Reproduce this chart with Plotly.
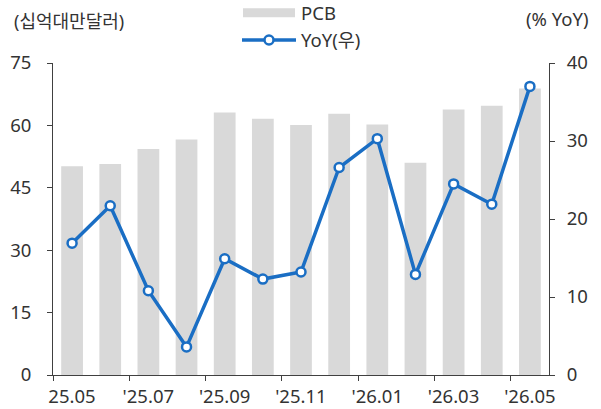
import plotly.graph_objects as go

months = ["25.05", "25.06", "25.07", "25.08", "25.09", "25.10", "25.11",
          "25.12", "26.01", "26.02", "26.03", "26.04", "26.05"]
pcb = [50.2, 50.7, 54.3, 56.6, 63.1, 61.6, 60.1, 62.8, 60.2, 51.0, 63.8, 64.7, 68.9]
yoy = [16.9, 21.7, 10.8, 3.6, 14.9, 12.3, 13.2, 26.6, 30.3, 12.9, 24.5, 21.9, 37.0]
tick_labels = ["25.05", "'25.07", "'25.09", "'25.11", "'26.01", "'26.03", "'26.05"]

BLUE = "#1a6ec4"
GRAY = "#d9d9d9"
TXT = "#333333"
AX = "#404040"
FONT = "Noto Sans, Noto Sans CJK KR, sans-serif"
FS = 18.5

xs = list(range(len(months)))
tickpos = [i - 0.5 for i in range(0, len(months), 2)]

fig = go.Figure()
fig.add_trace(go.Bar(x=xs, y=pcb, width=0.57, marker=dict(color=GRAY, line=dict(width=0)),
                     name="PCB", yaxis="y", showlegend=False))
fig.add_trace(go.Scatter(x=xs, y=yoy, mode="lines+markers", name="YoY(우)", yaxis="y2",
                         line=dict(color=BLUE, width=3.5),
                         marker=dict(size=9, color="white", line=dict(color=BLUE, width=2.5)),
                         showlegend=False))

W, H = 601, 409
L, R, T, B = 53, 52, 63, 34
pw, ph = W - L - R, H - T - B

def px(x):
    return (x - L) / pw

def py(y):
    return (H - B - y) / ph

shapes = [
    dict(type="rect", xref="paper", yref="paper", x0=px(243), x1=px(295), y0=py(17.3), y1=py(8.3),
         fillcolor=GRAY, line=dict(width=0)),
    dict(type="line", xref="paper", yref="paper", x0=px(242), x1=px(296), y0=py(40), y1=py(40),
         line=dict(color=BLUE, width=3.5)),
    dict(type="circle", xref="paper", yref="paper", xsizemode="pixel", ysizemode="pixel",
         xanchor=px(269), yanchor=py(40), x0=-4.5, x1=4.5, y0=-4.5, y1=4.5,
         fillcolor="white", line=dict(color=BLUE, width=2.5)),
]

annotations = [
    dict(text="PCB", xref="paper", yref="paper", x=px(299), y=py(12.5), xanchor="left",
         yanchor="middle", showarrow=False, font=dict(size=FS, color=TXT, family=FONT)),
    dict(text="YoY(우)", xref="paper", yref="paper", x=px(299), y=py(39), xanchor="left",
         yanchor="middle", showarrow=False, font=dict(size=FS, color=TXT, family=FONT)),
    dict(text="(십억대만달러)", xref="paper", yref="paper", x=px(12), y=py(20.5), xanchor="left",
         yanchor="middle", showarrow=False, font=dict(size=18, color=TXT, family=FONT)),
    dict(text="(% YoY)", xref="paper", yref="paper", x=px(591), y=py(18), xanchor="right",
         yanchor="middle", showarrow=False, font=dict(size=FS, color=TXT, family=FONT)),
]

fig.update_layout(
    width=W, height=H,
    margin=dict(l=L, r=R, t=T, b=B, pad=0, autoexpand=False),
    paper_bgcolor="white", plot_bgcolor="white",
    font=dict(family=FONT, size=FS, color=TXT),
    xaxis=dict(range=[-0.5, len(months) - 0.5], tickmode="array", tickvals=tickpos,
               ticktext=tick_labels, ticks="outside", ticklen=5, tickcolor=AX, tickwidth=1,
               ticklabelshift=19, showline=True, linecolor=AX, linewidth=1,
               showgrid=False, zeroline=False, automargin=False),
    yaxis=dict(range=[0, 75], tickmode="linear", tick0=0, dtick=15, ticks="outside",
               ticklen=5, tickcolor=AX, showline=True, linecolor=AX, linewidth=1,
               showgrid=False, zeroline=False, ticklabelstandoff=12, automargin=False),
    yaxis2=dict(range=[0, 40], tickmode="linear", tick0=0, dtick=10, ticks="outside",
                ticklen=5, tickcolor=AX, showline=True, linecolor=AX, linewidth=1,
                showgrid=False, zeroline=False, overlaying="y", side="right",
                ticklabelstandoff=8, automargin=False),
    shapes=shapes,
    annotations=annotations,
    showlegend=False,
)

fig.write_html("out.html")
